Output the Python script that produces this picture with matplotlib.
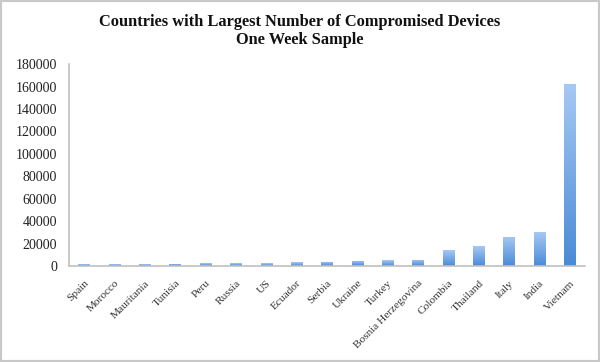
import numpy as np
import matplotlib
matplotlib.use("Agg")
import matplotlib.pyplot as plt
from matplotlib.patches import Rectangle
from matplotlib.colors import LinearSegmentedColormap

countries = ["Spain", "Morocco", "Mauritania", "Tunisia", "Peru", "Russia", "US",
             "Ecuador", "Serbia", "Ukraine", "Turkey", "Bosnia Herzegovina",
             "Colombia", "Thailand", "Italy", "India", "Vietnam"]
devices = [1400, 1400, 1500, 2000, 2500, 2600, 2600, 3500, 4000, 4800, 5200,
           5400, 14000, 17600, 26000, 30000, 162000]
yticks = list(range(0, 180001, 20000))

serif = "Liberation Serif"

fig = plt.figure(figsize=(6, 3.62), dpi=100)
ax = fig.add_axes([0.115, 0.265, 0.86, 0.558])

x = np.arange(len(countries))
bars = ax.bar(x, devices, width=0.38, color="none", edgecolor="none")

# Excel-style vertical gradient inside each bar
grad = LinearSegmentedColormap.from_list("g", ["#4a8bd6", "#a6c8f4"])
g = np.linspace(0, 1, 64).reshape(-1, 1)
for b in bars:
    x0, y0 = b.get_x(), b.get_y()
    im = ax.imshow(g, cmap=grad, origin="lower", aspect="auto",
                   extent=[x0, x0 + b.get_width(), y0, y0 + b.get_height()],
                   zorder=2)
    im.set_clip_path(b)

ax.set_xlim(-0.5, len(countries) - 0.5)
ax.set_ylim(0, 180000)
ax.set_yticks(yticks)
ax.set_yticklabels([str(v) for v in yticks], fontfamily=serif, fontsize=10,
                   color="#222222")
ax.set_xticks(x)
ax.set_xticklabels(countries, rotation=45, ha="right", va="top",
                   rotation_mode="anchor", fontfamily=serif, fontsize=8.2,
                   color="#333333")
ax.tick_params(axis="both", length=0)
ax.tick_params(axis="y", pad=8.5)
ax.tick_params(axis="x", pad=9)

for s in ["top", "right"]:
    ax.spines[s].set_visible(False)
for s in ["left", "bottom"]:
    ax.spines[s].set_color("#c0c0c0")
    ax.spines[s].set_linewidth(1.2)

fig.text(0.5, 0.915, "Countries with Largest Number of Compromised Devices\nOne Week Sample",
         ha="center", va="center", fontfamily=serif, fontweight="bold",
         fontsize=11.8, linespacing=1.15, color="#111111")

# thin grey frame around the image
fig.patches.append(Rectangle((0, 0), 1, 1, transform=fig.transFigure,
                             fill=False, edgecolor="#c8c8c8", linewidth=3))

fig.savefig("out.png", dpi=100)
